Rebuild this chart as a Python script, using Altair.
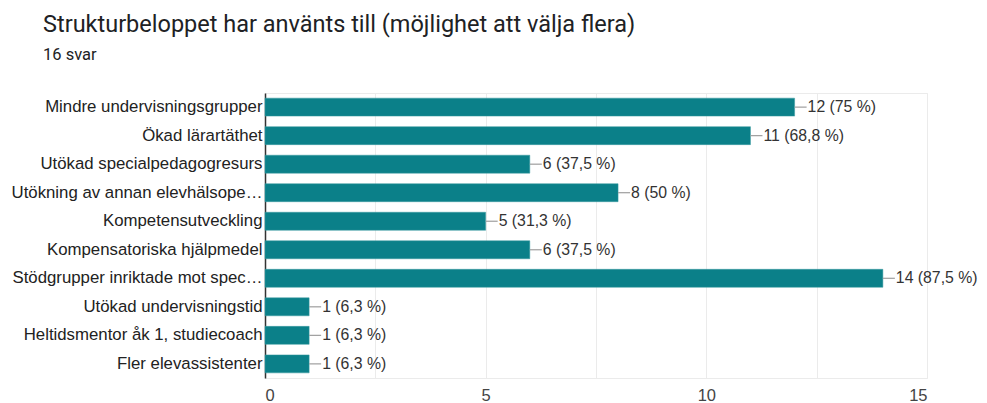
import altair as alt
import pandas as pd

categories = [
    "Mindre undervisningsgrupper",
    "Ökad lärartäthet",
    "Utökad specialpedagogresurs",
    "Utökning av annan elevhälsope…",
    "Kompetensutveckling",
    "Kompensatoriska hjälpmedel",
    "Stödgrupper inriktade mot spec…",
    "Utökad undervisningstid",
    "Heltidsmentor åk 1, studiecoach",
    "Fler elevassistenter",
]
counts = [12, 11, 6, 8, 5, 6, 14, 1, 1, 1]
percents = ["75", "68,8", "37,5", "50", "31,3", "37,5", "87,5", "6,3", "6,3", "6,3"]
x_ticks = [0, 2.5, 5, 7.5, 10, 12.5, 15]

df = pd.DataFrame({
    "kategori": categories,
    "antal": counts,
    "etikett": [f"{c} ({p} %)" for c, p in zip(counts, percents)],
})

LABEL_FONT = "Liberation Sans"

y_enc = alt.Y(
    "kategori:N",
    sort=categories,
    title=None,
    scale=alt.Scale(paddingInner=0.37, paddingOuter=0.18),
    axis=alt.Axis(
        labelFont=LABEL_FONT, labelFontSize=16.8, labelColor="#222222",
        labelLimit=260, labelPadding=3, ticks=False,
        domain=True, domainColor="#333333", domainWidth=1.5, grid=False,
    ),
)
x_enc = alt.X(
    "antal:Q",
    title=None,
    scale=alt.Scale(domain=[0, 15], nice=False),
    axis=alt.Axis(
        values=x_ticks,
        labelExpr="datum.value % 5 == 0 ? datum.label : ''",
        labelFont=LABEL_FONT, labelFontSize=16.5, labelColor="#444444",
        labelPadding=9, ticks=False, domain=False,
        grid=True, gridColor="#ebebeb", gridWidth=1,
    ),
)

bars = alt.Chart(df).mark_bar(color="#0b8089", stroke="#3a9aa1", strokeWidth=0.5).encode(
    x=x_enc, y=y_enc
)
leaders = alt.Chart(df).mark_rule(color="#9e9e9e", strokeWidth=1.2, x2Offset=12).encode(
    x="antal:Q", x2="antal:Q", y=alt.Y("kategori:N", sort=categories)
)
texts = alt.Chart(df).mark_text(
    align="left", baseline="middle", dx=13, font=LABEL_FONT, fontSize=15.8, color="#333333"
).encode(
    x="antal:Q", y=alt.Y("kategori:N", sort=categories), text="etikett:N"
)

chart = (
    alt.layer(bars, leaders, texts)
    .properties(
        width=662,
        height=285,
        autosize=alt.AutoSizeParams(type="none"),
        padding={"left": 257, "top": 85, "right": 51, "bottom": 28},
        title=alt.TitleParams(
            text="Strukturbeloppet har använts till (möjlighet att välja flera)",
            subtitle="16 svar",
            anchor="start",
            dx=32,
            offset=30,
            font="Roboto",
            fontSize=23.5,
            fontWeight="normal",
            color="#202124",
            subtitleFont="Roboto",
            subtitleFontSize=16.5,
            subtitleColor="#202124",
            subtitlePadding=10,
        ),
    )
    .configure_view(stroke="#ebebeb")
)

chart.save("out.html", embed_options={"renderer": "svg", "actions": False})
